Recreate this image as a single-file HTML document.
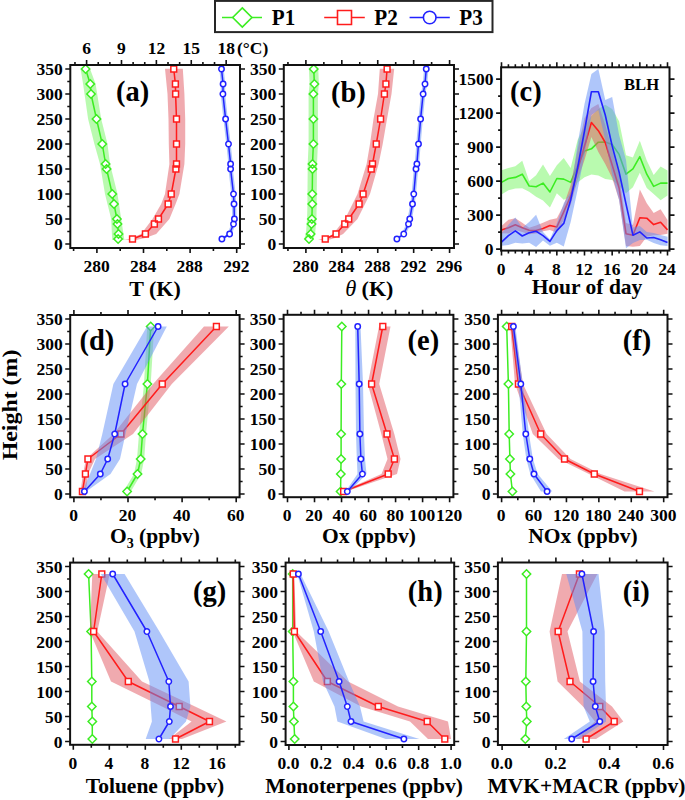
<!DOCTYPE html>
<html><head><meta charset="utf-8"><style>
html,body{margin:0;padding:0;background:#fff;}
svg{display:block;}
</style></head><body>
<svg width="685" height="800" viewBox="0 0 685 800">
<rect width="685" height="800" fill="#fff"/>
<polygon points="80.6,68.8 83.1,84 88.1,119 94.4,144 100,164 105,194 111.2,219 112.2,240 124.4,240 121.2,219 117.5,194 110,164 107.5,144 101.2,119 95.6,84 90,68.8" fill="#73f55f" fill-opacity="0.5"/>
<polyline points="85.6,69 90.25,84 91,94 96.5,119 102.25,144 105.6,164 106.6,169 112.25,194 114,204 116.9,219 117.5,224 118.5,234 118.1,239" fill="none" stroke="#3ced22" stroke-width="1.5" stroke-linejoin="round"/>
<path d="M85.6 64.8L89.8 69L85.6 73.2L81.4 69ZM90.25 79.8L94.45 84L90.25 88.2L86.05 84ZM91 89.8L95.2 94L91 98.2L86.8 94ZM96.5 114.8L100.7 119L96.5 123.2L92.3 119ZM102.25 139.8L106.45 144L102.25 148.2L98.05 144ZM105.6 159.8L109.8 164L105.6 168.2L101.4 164ZM106.6 164.8L110.8 169L106.6 173.2L102.4 169ZM112.25 189.8L116.45 194L112.25 198.2L108.05 194ZM114 199.8L118.2 204L114 208.2L109.8 204ZM116.9 214.8L121.1 219L116.9 223.2L112.7 219ZM117.5 219.8L121.7 224L117.5 228.2L113.3 224ZM118.5 229.8L122.7 234L118.5 238.2L114.3 234ZM118.1 234.8L122.3 239L118.1 243.2L113.9 239Z" fill="#fff" stroke="#3ced22" stroke-width="1.5"/>
<polygon points="165,68.8 167.5,94 168.5,119 168.8,144 169.4,164 165,194 161.2,204 152.5,219 141.2,234 129,239 124,240 136,240 145,238 156.2,234 169.4,219 175.6,204 179.4,194 184.4,164 185.2,144 185.2,119 184.4,94 182.8,68.8" fill="#e1555f" fill-opacity="0.5"/>
<polyline points="173.75,69 175.4,84 175.6,94 176.5,119 176.5,144 176.5,164 175.9,169 171.25,194 168.1,204 158.5,219 154.4,224 145.4,234 132.5,239" fill="none" stroke="#ff1c1c" stroke-width="1.5" stroke-linejoin="round"/>
<path d="M170.85 66.1h5.8v5.8h-5.8ZM172.5 81.1h5.8v5.8h-5.8ZM172.7 91.1h5.8v5.8h-5.8ZM173.6 116.1h5.8v5.8h-5.8ZM173.6 141.1h5.8v5.8h-5.8ZM173.6 161.1h5.8v5.8h-5.8ZM173 166.1h5.8v5.8h-5.8ZM168.35 191.1h5.8v5.8h-5.8ZM165.2 201.1h5.8v5.8h-5.8ZM155.6 216.1h5.8v5.8h-5.8ZM151.5 221.1h5.8v5.8h-5.8ZM142.5 231.1h5.8v5.8h-5.8ZM129.6 236.1h5.8v5.8h-5.8Z" fill="#fff" stroke="#ff1c1c" stroke-width="1.5"/>
<polygon points="219.3,69 220.9,84 220.7,94 223.4,119 226.3,144 228.4,164 228.4,169 231.3,194 231.8,204 232.2,219 231.3,224 227.4,234 219.7,239 224.1,239 231.8,234 235.7,224 236.6,219 236.2,204 235.7,194 232.8,169 232.8,164 230.7,144 227.8,119 225.1,94 225.3,84 223.7,69" fill="#5f8df5" fill-opacity="0.5"/>
<polyline points="221.5,69 223.1,84 222.9,94 225.6,119 228.5,144 230.6,164 230.6,169 233.5,194 234,204 234.4,219 233.5,224 229.6,234 221.9,239" fill="none" stroke="#2222ff" stroke-width="1.5" stroke-linejoin="round"/>
<path d="M218.8 69a2.7 2.7 0 1 0 5.4 0a2.7 2.7 0 1 0 -5.4 0ZM220.4 84a2.7 2.7 0 1 0 5.4 0a2.7 2.7 0 1 0 -5.4 0ZM220.2 94a2.7 2.7 0 1 0 5.4 0a2.7 2.7 0 1 0 -5.4 0ZM222.9 119a2.7 2.7 0 1 0 5.4 0a2.7 2.7 0 1 0 -5.4 0ZM225.8 144a2.7 2.7 0 1 0 5.4 0a2.7 2.7 0 1 0 -5.4 0ZM227.9 164a2.7 2.7 0 1 0 5.4 0a2.7 2.7 0 1 0 -5.4 0ZM227.9 169a2.7 2.7 0 1 0 5.4 0a2.7 2.7 0 1 0 -5.4 0ZM230.8 194a2.7 2.7 0 1 0 5.4 0a2.7 2.7 0 1 0 -5.4 0ZM231.3 204a2.7 2.7 0 1 0 5.4 0a2.7 2.7 0 1 0 -5.4 0ZM231.7 219a2.7 2.7 0 1 0 5.4 0a2.7 2.7 0 1 0 -5.4 0ZM230.8 224a2.7 2.7 0 1 0 5.4 0a2.7 2.7 0 1 0 -5.4 0ZM226.9 234a2.7 2.7 0 1 0 5.4 0a2.7 2.7 0 1 0 -5.4 0ZM219.2 239a2.7 2.7 0 1 0 5.4 0a2.7 2.7 0 1 0 -5.4 0Z" fill="#fff" stroke="#2222ff" stroke-width="1.5"/>
<rect x="70.3" y="65" width="169.7" height="183" fill="none" stroke="#111" stroke-width="2"/>
<path d="M70.3 244L65.3 244M240 244L245 244M70.3 219L65.3 219M240 219L245 219M70.3 194L65.3 194M240 194L245 194M70.3 169L65.3 169M240 169L245 169M70.3 144L65.3 144M240 144L245 144M70.3 119L65.3 119M240 119L245 119M70.3 94L65.3 94M240 94L245 94M70.3 69L65.3 69M240 69L245 69M70.3 231.5L67.3 231.5M240 231.5L243 231.5M70.3 206.5L67.3 206.5M240 206.5L243 206.5M70.3 181.5L67.3 181.5M240 181.5L243 181.5M70.3 156.5L67.3 156.5M240 156.5L243 156.5M70.3 131.5L67.3 131.5M240 131.5L243 131.5M70.3 106.5L67.3 106.5M240 106.5L243 106.5M70.3 81.5L67.3 81.5M240 81.5L243 81.5" stroke="#111" stroke-width="1.6" fill="none"/>
<text x="62.8" y="250.2" font-family="Liberation Serif" font-weight="bold" font-size="17.5" text-anchor="end">0</text>
<text x="62.8" y="225.2" font-family="Liberation Serif" font-weight="bold" font-size="17.5" text-anchor="end">50</text>
<text x="62.8" y="200.2" font-family="Liberation Serif" font-weight="bold" font-size="17.5" text-anchor="end">100</text>
<text x="62.8" y="175.2" font-family="Liberation Serif" font-weight="bold" font-size="17.5" text-anchor="end">150</text>
<text x="62.8" y="150.2" font-family="Liberation Serif" font-weight="bold" font-size="17.5" text-anchor="end">200</text>
<text x="62.8" y="125.2" font-family="Liberation Serif" font-weight="bold" font-size="17.5" text-anchor="end">250</text>
<text x="62.8" y="100.2" font-family="Liberation Serif" font-weight="bold" font-size="17.5" text-anchor="end">300</text>
<text x="62.8" y="75.2" font-family="Liberation Serif" font-weight="bold" font-size="17.5" text-anchor="end">350</text>
<path d="M96.9 248L96.9 253M143.5 248L143.5 253M190.1 248L190.1 253M236.7 248L236.7 253M73.6 248L73.6 251M120.2 248L120.2 251M166.8 248L166.8 251M213.4 248L213.4 251" stroke="#111" stroke-width="1.6" fill="none"/>
<text x="96.5" y="272" font-family="Liberation Serif" font-weight="bold" font-size="17.5" text-anchor="middle">280</text>
<text x="143.1" y="272" font-family="Liberation Serif" font-weight="bold" font-size="17.5" text-anchor="middle">284</text>
<text x="189.7" y="272" font-family="Liberation Serif" font-weight="bold" font-size="17.5" text-anchor="middle">288</text>
<text x="236.3" y="272" font-family="Liberation Serif" font-weight="bold" font-size="17.5" text-anchor="middle">292</text>
<path d="M86.6 65L86.6 60M121.49 65L121.49 60M156.38 65L156.38 60M191.27 65L191.27 60M226.16 65L226.16 60M74.97 65L74.97 62M98.23 65L98.23 62M109.86 65L109.86 62M133.12 65L133.12 62M144.75 65L144.75 62M168.01 65L168.01 62M179.64 65L179.64 62M202.9 65L202.9 62M214.53 65L214.53 62" stroke="#111" stroke-width="1.6" fill="none"/>
<text x="86.6" y="53.8" font-family="Liberation Serif" font-weight="bold" font-size="17.5" text-anchor="middle">6</text>
<text x="121.49" y="53.8" font-family="Liberation Serif" font-weight="bold" font-size="17.5" text-anchor="middle">9</text>
<text x="156.38" y="53.8" font-family="Liberation Serif" font-weight="bold" font-size="17.5" text-anchor="middle">12</text>
<text x="191.27" y="53.8" font-family="Liberation Serif" font-weight="bold" font-size="17.5" text-anchor="middle">15</text>
<text x="226.16" y="53.8" font-family="Liberation Serif" font-weight="bold" font-size="17.5" text-anchor="middle">18</text>
<text x="237" y="53.8" font-family="Liberation Serif" font-weight="bold" font-size="17.5">(°C)</text>
<text x="116" y="101.3" font-family="Liberation Serif" font-weight="bold" font-size="28.5" text-anchor="start">(a)</text>
<text x="155" y="295.8" font-family="Liberation Serif" font-weight="bold" font-size="22" text-anchor="middle">T (K)</text>
<polygon points="308.95,69 309.6,84 308.6,94 308.6,119 308.6,144 307.7,164 307.7,169 307.45,194 307.45,204 307.1,219 306.7,224 305.8,234 304.2,239 313.5,239 315.1,234 316,224 316.4,219 316.75,204 316.75,194 317,169 317,164 317.9,144 317.9,119 317.9,94 318.9,84 318.25,69" fill="#73f55f" fill-opacity="0.5"/>
<polyline points="313.75,69 314.4,84 313.4,94 313.4,119 313.4,144 312.5,164 312.5,169 312.25,194 312.25,204 311.9,219 311.5,224 310.6,234 309,239" fill="none" stroke="#3ced22" stroke-width="1.5" stroke-linejoin="round"/>
<path d="M313.75 64.8L317.95 69L313.75 73.2L309.55 69ZM314.4 79.8L318.6 84L314.4 88.2L310.2 84ZM313.4 89.8L317.6 94L313.4 98.2L309.2 94ZM313.4 114.8L317.6 119L313.4 123.2L309.2 119ZM313.4 139.8L317.6 144L313.4 148.2L309.2 144ZM312.5 159.8L316.7 164L312.5 168.2L308.3 164ZM312.5 164.8L316.7 169L312.5 173.2L308.3 169ZM312.25 189.8L316.45 194L312.25 198.2L308.05 194ZM312.25 199.8L316.45 204L312.25 208.2L308.05 204ZM311.9 214.8L316.1 219L311.9 223.2L307.7 219ZM311.5 219.8L315.7 224L311.5 228.2L307.3 224ZM310.6 229.8L314.8 234L310.6 238.2L306.4 234ZM309 234.8L313.2 239L309 243.2L304.8 239Z" fill="#fff" stroke="#3ced22" stroke-width="1.5"/>
<polygon points="379.8,68.8 378,94 373.5,119 370,144 366.6,164 357.5,194 345,219 333.1,234 325,238 318,240 328,240 335,238 343.1,234 357.5,219 370,194 378.6,164 382.7,144 387,119 391.5,94 394.2,68.8" fill="#e1555f" fill-opacity="0.5"/>
<polyline points="387.1,69 385.9,84 384.4,94 380.6,119 376.25,144 372.5,164 371.25,169 363.1,194 359.1,204 348.75,219 344.75,224 336,234 325.25,239" fill="none" stroke="#ff1c1c" stroke-width="1.5" stroke-linejoin="round"/>
<path d="M384.2 66.1h5.8v5.8h-5.8ZM383 81.1h5.8v5.8h-5.8ZM381.5 91.1h5.8v5.8h-5.8ZM377.7 116.1h5.8v5.8h-5.8ZM373.35 141.1h5.8v5.8h-5.8ZM369.6 161.1h5.8v5.8h-5.8ZM368.35 166.1h5.8v5.8h-5.8ZM360.2 191.1h5.8v5.8h-5.8ZM356.2 201.1h5.8v5.8h-5.8ZM345.85 216.1h5.8v5.8h-5.8ZM341.85 221.1h5.8v5.8h-5.8ZM333.1 231.1h5.8v5.8h-5.8ZM322.35 236.1h5.8v5.8h-5.8Z" fill="#fff" stroke="#ff1c1c" stroke-width="1.5"/>
<polygon points="424.05,69 422.8,84 420.9,94 418.4,119 416.3,144 414.7,164 413.8,169 411.55,194 410.3,204 407.55,219 406.3,224 401.55,234 394.7,239 399.1,239 405.95,234 410.7,224 411.95,219 414.7,204 415.95,194 418.2,169 419.1,164 420.7,144 422.8,119 425.3,94 427.2,84 428.45,69" fill="#5f8df5" fill-opacity="0.5"/>
<polyline points="426.25,69 425,84 423.1,94 420.6,119 418.5,144 416.9,164 416,169 413.75,194 412.5,204 409.75,219 408.5,224 403.75,234 396.9,239" fill="none" stroke="#2222ff" stroke-width="1.5" stroke-linejoin="round"/>
<path d="M423.55 69a2.7 2.7 0 1 0 5.4 0a2.7 2.7 0 1 0 -5.4 0ZM422.3 84a2.7 2.7 0 1 0 5.4 0a2.7 2.7 0 1 0 -5.4 0ZM420.4 94a2.7 2.7 0 1 0 5.4 0a2.7 2.7 0 1 0 -5.4 0ZM417.9 119a2.7 2.7 0 1 0 5.4 0a2.7 2.7 0 1 0 -5.4 0ZM415.8 144a2.7 2.7 0 1 0 5.4 0a2.7 2.7 0 1 0 -5.4 0ZM414.2 164a2.7 2.7 0 1 0 5.4 0a2.7 2.7 0 1 0 -5.4 0ZM413.3 169a2.7 2.7 0 1 0 5.4 0a2.7 2.7 0 1 0 -5.4 0ZM411.05 194a2.7 2.7 0 1 0 5.4 0a2.7 2.7 0 1 0 -5.4 0ZM409.8 204a2.7 2.7 0 1 0 5.4 0a2.7 2.7 0 1 0 -5.4 0ZM407.05 219a2.7 2.7 0 1 0 5.4 0a2.7 2.7 0 1 0 -5.4 0ZM405.8 224a2.7 2.7 0 1 0 5.4 0a2.7 2.7 0 1 0 -5.4 0ZM401.05 234a2.7 2.7 0 1 0 5.4 0a2.7 2.7 0 1 0 -5.4 0ZM394.2 239a2.7 2.7 0 1 0 5.4 0a2.7 2.7 0 1 0 -5.4 0Z" fill="#fff" stroke="#2222ff" stroke-width="1.5"/>
<rect x="283.8" y="65" width="170.2" height="183" fill="none" stroke="#111" stroke-width="2"/>
<path d="M283.8 244L278.8 244M454 244L459 244M283.8 219L278.8 219M454 219L459 219M283.8 194L278.8 194M454 194L459 194M283.8 169L278.8 169M454 169L459 169M283.8 144L278.8 144M454 144L459 144M283.8 119L278.8 119M454 119L459 119M283.8 94L278.8 94M454 94L459 94M283.8 69L278.8 69M454 69L459 69M283.8 231.5L280.8 231.5M454 231.5L457 231.5M283.8 206.5L280.8 206.5M454 206.5L457 206.5M283.8 181.5L280.8 181.5M454 181.5L457 181.5M283.8 156.5L280.8 156.5M454 156.5L457 156.5M283.8 131.5L280.8 131.5M454 131.5L457 131.5M283.8 106.5L280.8 106.5M454 106.5L457 106.5M283.8 81.5L280.8 81.5M454 81.5L457 81.5" stroke="#111" stroke-width="1.6" fill="none"/>
<text x="276.3" y="250.2" font-family="Liberation Serif" font-weight="bold" font-size="17.5" text-anchor="end">0</text>
<text x="276.3" y="225.2" font-family="Liberation Serif" font-weight="bold" font-size="17.5" text-anchor="end">50</text>
<text x="276.3" y="200.2" font-family="Liberation Serif" font-weight="bold" font-size="17.5" text-anchor="end">100</text>
<text x="276.3" y="175.2" font-family="Liberation Serif" font-weight="bold" font-size="17.5" text-anchor="end">150</text>
<text x="276.3" y="150.2" font-family="Liberation Serif" font-weight="bold" font-size="17.5" text-anchor="end">200</text>
<text x="276.3" y="125.2" font-family="Liberation Serif" font-weight="bold" font-size="17.5" text-anchor="end">250</text>
<text x="276.3" y="100.2" font-family="Liberation Serif" font-weight="bold" font-size="17.5" text-anchor="end">300</text>
<text x="276.3" y="75.2" font-family="Liberation Serif" font-weight="bold" font-size="17.5" text-anchor="end">350</text>
<path d="M305.9 248L305.9 253M305.9 65L305.9 60M341.82 248L341.82 253M341.82 65L341.82 60M377.74 248L377.74 253M377.74 65L377.74 60M413.66 248L413.66 253M413.66 65L413.66 60M449.58 248L449.58 253M449.58 65L449.58 60M287.94 248L287.94 251M287.94 65L287.94 62M323.86 248L323.86 251M323.86 65L323.86 62M359.78 248L359.78 251M359.78 65L359.78 62M395.7 248L395.7 251M395.7 65L395.7 62M431.62 248L431.62 251M431.62 65L431.62 62" stroke="#111" stroke-width="1.6" fill="none"/>
<text x="305.5" y="272" font-family="Liberation Serif" font-weight="bold" font-size="17.5" text-anchor="middle">280</text>
<text x="341.42" y="272" font-family="Liberation Serif" font-weight="bold" font-size="17.5" text-anchor="middle">284</text>
<text x="377.34" y="272" font-family="Liberation Serif" font-weight="bold" font-size="17.5" text-anchor="middle">288</text>
<text x="413.26" y="272" font-family="Liberation Serif" font-weight="bold" font-size="17.5" text-anchor="middle">292</text>
<text x="449.18" y="272" font-family="Liberation Serif" font-weight="bold" font-size="17.5" text-anchor="middle">296</text>
<text x="331" y="101.8" font-family="Liberation Serif" font-weight="bold" font-size="28.5" text-anchor="start">(b)</text>
<text x="345.2" y="295.8" font-family="Liberation Serif" font-style="italic" font-size="22.5">θ</text>
<text x="361.6" y="295.8" font-family="Liberation Serif" font-weight="bold" font-size="22">(K)</text>
<polygon points="501.5,170.2 508.42,168 515.33,166.3 522.25,160.8 529.17,181 536.09,175.2 543,164.4 549.92,176 556.84,165.2 563.75,158 570.67,168 577.59,140 584.5,126.5 591.42,116 598.34,109 605.25,104.8 612.17,109 619.09,121.3 626.01,155.2 632.92,157.5 639.84,140.7 646.76,160.5 653.67,175 660.59,166.6 667.51,170.4 667.51,195.6 660.59,200.2 653.67,194 646.76,188 639.84,172.7 632.92,187.2 626.01,193.3 619.09,186 612.17,180 605.25,179 598.34,175.5 591.42,174.6 584.5,177.3 577.59,182.5 570.67,196.8 563.75,199.7 556.84,193.2 549.92,207.6 543,200.4 536.09,196.8 529.17,191.8 522.25,188.2 515.33,188.6 508.42,190.3 501.5,194.6" fill="#73f55f" fill-opacity="0.5"/>
<polyline points="501.5,182.4 508.42,178.5 515.33,177.4 522.25,174.2 529.17,186 536.09,186.7 543,183.1 549.92,192 556.84,178.5 563.75,179.1 570.67,182.4 577.59,166 584.5,151 591.42,148.8 598.34,142.2 605.25,142.1 612.17,144.5 619.09,154.4 626.01,174.2 632.92,168.9 639.84,156.7 646.76,174.2 653.67,186.4 660.59,183.1 667.51,183.1" fill="none" stroke="#3ced22" stroke-width="1.6" stroke-linejoin="round"/>
<polygon points="501.5,226 508.42,219.8 515.33,218.3 522.25,222.7 529.17,227.7 536.09,225.5 543,222.7 549.92,219.8 556.84,218.3 563.75,205 570.67,185 577.59,150 584.5,118 591.42,108 598.34,104 605.25,125 612.17,150 619.09,175 626.01,223 632.92,225 639.84,189.5 646.76,203.2 653.67,213.1 660.59,209.3 667.51,220 667.51,233.7 660.59,235 653.67,235.2 646.76,236.8 639.84,245.9 632.92,246.7 626.01,246 619.09,200 612.17,178 605.25,164 598.34,152 591.42,137 584.5,160 577.59,180 570.67,205 563.75,220 556.84,232.7 549.92,229.9 543,231.3 536.09,233.4 529.17,234.2 522.25,232 515.33,229.9 508.42,233.4 501.5,233.2" fill="#e1555f" fill-opacity="0.5"/>
<polyline points="501.5,229.9 508.42,227.7 515.33,224.8 522.25,227.7 529.17,230.3 536.09,230.6 543,228.4 549.92,225.5 556.84,227 563.75,211.9 570.67,196.1 577.59,170 584.5,146 591.42,122.5 598.34,130.7 605.25,142.5 612.17,165 619.09,188 626.01,233.7 632.92,235.2 639.84,217.7 646.76,218.2 653.67,224.6 660.59,222.3 667.51,229.9" fill="none" stroke="#ff1c1c" stroke-width="1.6" stroke-linejoin="round"/>
<polygon points="501.5,233.4 508.42,224.8 515.33,217.6 522.25,227.7 529.17,222 536.09,214.8 543,232 549.92,239.2 556.84,223.4 563.75,203.3 570.67,192 577.59,144 584.5,104 591.42,74 598.34,69 605.25,100 612.17,97 619.09,135 626.01,160 632.92,227.6 639.84,226.1 646.76,232 653.67,233 660.59,235 667.51,236.8 667.51,245.9 660.59,245.2 653.67,242.9 646.76,239.8 639.84,240 632.92,242.9 626.01,248.2 619.09,200 612.17,175 605.25,140 598.34,110 591.42,115 584.5,155 577.59,190 570.67,222 563.75,246.4 556.84,242.8 549.92,245.7 543,240.6 536.09,247.1 529.17,242.8 522.25,243.5 515.33,242.8 508.42,245 501.5,245.7" fill="#5f8df5" fill-opacity="0.5"/>
<polyline points="501.5,242.1 508.42,235.6 515.33,230.9 522.25,236 529.17,232.7 536.09,231.3 543,235.6 549.92,241.4 556.84,230.6 563.75,223.4 570.67,200 577.59,168 584.5,131 591.42,91.7 598.34,91.7 605.25,115 612.17,146 619.09,172 626.01,204 632.92,235.2 639.84,231.9 646.76,238 653.67,237.5 660.59,239.8 667.51,242.6" fill="none" stroke="#2222ff" stroke-width="1.6" stroke-linejoin="round"/>
<rect x="501.1" y="67.3" width="168.4" height="183.3" fill="none" stroke="#111" stroke-width="2"/>
<path d="M501.1 249.1L496.1 249.1M669.5 249.1L674.5 249.1M501.1 215.1L496.1 215.1M669.5 215.1L674.5 215.1M501.1 181.1L496.1 181.1M669.5 181.1L674.5 181.1M501.1 147.1L496.1 147.1M669.5 147.1L674.5 147.1M501.1 113.1L496.1 113.1M669.5 113.1L674.5 113.1M501.1 79.1L496.1 79.1M669.5 79.1L674.5 79.1M501.1 232.1L498.1 232.1M669.5 232.1L672.5 232.1M501.1 198.1L498.1 198.1M669.5 198.1L672.5 198.1M501.1 164.1L498.1 164.1M669.5 164.1L672.5 164.1M501.1 130.1L498.1 130.1M669.5 130.1L672.5 130.1M501.1 96.1L498.1 96.1M669.5 96.1L672.5 96.1" stroke="#111" stroke-width="1.6" fill="none"/>
<text x="493.6" y="255.3" font-family="Liberation Serif" font-weight="bold" font-size="17.5" text-anchor="end">0</text>
<text x="493.6" y="221.3" font-family="Liberation Serif" font-weight="bold" font-size="17.5" text-anchor="end">300</text>
<text x="493.6" y="187.3" font-family="Liberation Serif" font-weight="bold" font-size="17.5" text-anchor="end">600</text>
<text x="493.6" y="153.3" font-family="Liberation Serif" font-weight="bold" font-size="17.5" text-anchor="end">900</text>
<text x="493.6" y="119.3" font-family="Liberation Serif" font-weight="bold" font-size="17.5" text-anchor="end">1200</text>
<text x="493.6" y="85.3" font-family="Liberation Serif" font-weight="bold" font-size="17.5" text-anchor="end">1500</text>
<path d="M501.5 250.6L501.5 255.6M501.5 67.3L501.5 62.3M529.17 250.6L529.17 255.6M529.17 67.3L529.17 62.3M556.84 250.6L556.84 255.6M556.84 67.3L556.84 62.3M584.5 250.6L584.5 255.6M584.5 67.3L584.5 62.3M612.17 250.6L612.17 255.6M612.17 67.3L612.17 62.3M639.84 250.6L639.84 255.6M639.84 67.3L639.84 62.3M667.51 250.6L667.51 255.6M667.51 67.3L667.51 62.3M508.42 250.6L508.42 253.6M508.42 67.3L508.42 64.3M515.33 250.6L515.33 253.6M515.33 67.3L515.33 64.3M522.25 250.6L522.25 253.6M522.25 67.3L522.25 64.3M536.09 250.6L536.09 253.6M536.09 67.3L536.09 64.3M543 250.6L543 253.6M543 67.3L543 64.3M549.92 250.6L549.92 253.6M549.92 67.3L549.92 64.3M563.75 250.6L563.75 253.6M563.75 67.3L563.75 64.3M570.67 250.6L570.67 253.6M570.67 67.3L570.67 64.3M577.59 250.6L577.59 253.6M577.59 67.3L577.59 64.3M591.42 250.6L591.42 253.6M591.42 67.3L591.42 64.3M598.34 250.6L598.34 253.6M598.34 67.3L598.34 64.3M605.25 250.6L605.25 253.6M605.25 67.3L605.25 64.3M619.09 250.6L619.09 253.6M619.09 67.3L619.09 64.3M626.01 250.6L626.01 253.6M626.01 67.3L626.01 64.3M632.92 250.6L632.92 253.6M632.92 67.3L632.92 64.3M646.76 250.6L646.76 253.6M646.76 67.3L646.76 64.3M653.67 250.6L653.67 253.6M653.67 67.3L653.67 64.3M660.59 250.6L660.59 253.6M660.59 67.3L660.59 64.3" stroke="#111" stroke-width="1.6" fill="none"/>
<text x="501.1" y="274.6" font-family="Liberation Serif" font-weight="bold" font-size="17.5" text-anchor="middle">0</text>
<text x="528.77" y="274.6" font-family="Liberation Serif" font-weight="bold" font-size="17.5" text-anchor="middle">4</text>
<text x="556.44" y="274.6" font-family="Liberation Serif" font-weight="bold" font-size="17.5" text-anchor="middle">8</text>
<text x="584.1" y="274.6" font-family="Liberation Serif" font-weight="bold" font-size="17.5" text-anchor="middle">12</text>
<text x="611.77" y="274.6" font-family="Liberation Serif" font-weight="bold" font-size="17.5" text-anchor="middle">16</text>
<text x="639.44" y="274.6" font-family="Liberation Serif" font-weight="bold" font-size="17.5" text-anchor="middle">20</text>
<text x="667.11" y="274.6" font-family="Liberation Serif" font-weight="bold" font-size="17.5" text-anchor="middle">24</text>
<text x="510" y="100.7" font-family="Liberation Serif" font-weight="bold" font-size="28.5" text-anchor="start">(c)</text>
<text x="624" y="89.8" font-family="Liberation Serif" font-weight="bold" font-size="16.6">BLH</text>
<text x="587" y="293.5" font-family="Liberation Serif" font-weight="bold" font-size="21.5" text-anchor="middle">Hour of day</text>
<polygon points="147.2,326.5 144,384 139,434 137,459 134,474 123.4,491.5 130.8,491.5 141.2,474 144.2,459 146,434 150.7,384 154.2,326.5" fill="#73f55f" fill-opacity="0.5"/>
<polyline points="150.7,326.5 147.4,384 142.5,434 140.7,459 137.5,474 127.1,491.5" fill="none" stroke="#3ced22" stroke-width="1.5" stroke-linejoin="round"/>
<path d="M150.7 322.3L154.9 326.5L150.7 330.7L146.5 326.5ZM147.4 379.8L151.6 384L147.4 388.2L143.2 384ZM142.5 429.8L146.7 434L142.5 438.2L138.3 434ZM140.7 454.8L144.9 459L140.7 463.2L136.5 459ZM137.5 469.8L141.7 474L137.5 478.2L133.3 474ZM127.1 487.3L131.3 491.5L127.1 495.7L122.9 491.5Z" fill="#fff" stroke="#3ced22" stroke-width="1.5"/>
<polygon points="204,326.5 153.1,384 113.5,434 86,459 83,474 80.5,491.5 86,491.5 88,474 95,459 133,434 171.8,384 228.8,326.5" fill="#e1555f" fill-opacity="0.5"/>
<polyline points="216.4,326.5 162.3,384 120.9,434 87.9,459 85.4,474 82.4,491.5" fill="none" stroke="#ff1c1c" stroke-width="1.5" stroke-linejoin="round"/>
<path d="M213.5 323.6h5.8v5.8h-5.8ZM159.4 381.1h5.8v5.8h-5.8ZM118 431.1h5.8v5.8h-5.8ZM85 456.1h5.8v5.8h-5.8ZM82.5 471.1h5.8v5.8h-5.8ZM79.5 488.6h5.8v5.8h-5.8Z" fill="#fff" stroke="#ff1c1c" stroke-width="1.5"/>
<polygon points="147,326.5 113.4,384 102.3,434 96,459 90,474 82.4,491.5 86.2,491.5 110.5,474 120,459 125.5,434 137,384 166.8,326.5" fill="#5f8df5" fill-opacity="0.5"/>
<polyline points="158.1,326.5 125.1,384 114.7,434 107.7,459 100.3,474 84.4,491.5" fill="none" stroke="#2222ff" stroke-width="1.5" stroke-linejoin="round"/>
<path d="M155.4 326.5a2.7 2.7 0 1 0 5.4 0a2.7 2.7 0 1 0 -5.4 0ZM122.4 384a2.7 2.7 0 1 0 5.4 0a2.7 2.7 0 1 0 -5.4 0ZM112 434a2.7 2.7 0 1 0 5.4 0a2.7 2.7 0 1 0 -5.4 0ZM105 459a2.7 2.7 0 1 0 5.4 0a2.7 2.7 0 1 0 -5.4 0ZM97.6 474a2.7 2.7 0 1 0 5.4 0a2.7 2.7 0 1 0 -5.4 0ZM81.7 491.5a2.7 2.7 0 1 0 5.4 0a2.7 2.7 0 1 0 -5.4 0Z" fill="#fff" stroke="#2222ff" stroke-width="1.5"/>
<rect x="70.2" y="315" width="169.4" height="182.3" fill="none" stroke="#111" stroke-width="2"/>
<path d="M70.2 494L65.2 494M239.6 494L244.6 494M70.2 469L65.2 469M239.6 469L244.6 469M70.2 444L65.2 444M239.6 444L244.6 444M70.2 419L65.2 419M239.6 419L244.6 419M70.2 394L65.2 394M239.6 394L244.6 394M70.2 369L65.2 369M239.6 369L244.6 369M70.2 344L65.2 344M239.6 344L244.6 344M70.2 319L65.2 319M239.6 319L244.6 319M70.2 481.5L67.2 481.5M239.6 481.5L242.6 481.5M70.2 456.5L67.2 456.5M239.6 456.5L242.6 456.5M70.2 431.5L67.2 431.5M239.6 431.5L242.6 431.5M70.2 406.5L67.2 406.5M239.6 406.5L242.6 406.5M70.2 381.5L67.2 381.5M239.6 381.5L242.6 381.5M70.2 356.5L67.2 356.5M239.6 356.5L242.6 356.5M70.2 331.5L67.2 331.5M239.6 331.5L242.6 331.5" stroke="#111" stroke-width="1.6" fill="none"/>
<text x="62.7" y="500.2" font-family="Liberation Serif" font-weight="bold" font-size="17.5" text-anchor="end">0</text>
<text x="62.7" y="475.2" font-family="Liberation Serif" font-weight="bold" font-size="17.5" text-anchor="end">50</text>
<text x="62.7" y="450.2" font-family="Liberation Serif" font-weight="bold" font-size="17.5" text-anchor="end">100</text>
<text x="62.7" y="425.2" font-family="Liberation Serif" font-weight="bold" font-size="17.5" text-anchor="end">150</text>
<text x="62.7" y="400.2" font-family="Liberation Serif" font-weight="bold" font-size="17.5" text-anchor="end">200</text>
<text x="62.7" y="375.2" font-family="Liberation Serif" font-weight="bold" font-size="17.5" text-anchor="end">250</text>
<text x="62.7" y="350.2" font-family="Liberation Serif" font-weight="bold" font-size="17.5" text-anchor="end">300</text>
<text x="62.7" y="325.2" font-family="Liberation Serif" font-weight="bold" font-size="17.5" text-anchor="end">350</text>
<path d="M73.9 497.3L73.9 502.3M73.9 315L73.9 310M128 497.3L128 502.3M128 315L128 310M182.1 497.3L182.1 502.3M182.1 315L182.1 310M236.2 497.3L236.2 502.3M236.2 315L236.2 310M100.95 497.3L100.95 500.3M100.95 315L100.95 312M155.05 497.3L155.05 500.3M155.05 315L155.05 312M209.15 497.3L209.15 500.3M209.15 315L209.15 312" stroke="#111" stroke-width="1.6" fill="none"/>
<text x="73.5" y="521.3" font-family="Liberation Serif" font-weight="bold" font-size="17.5" text-anchor="middle">0</text>
<text x="127.6" y="521.3" font-family="Liberation Serif" font-weight="bold" font-size="17.5" text-anchor="middle">20</text>
<text x="181.7" y="521.3" font-family="Liberation Serif" font-weight="bold" font-size="17.5" text-anchor="middle">40</text>
<text x="235.8" y="521.3" font-family="Liberation Serif" font-weight="bold" font-size="17.5" text-anchor="middle">60</text>
<text x="79.5" y="350.2" font-family="Liberation Serif" font-weight="bold" font-size="28.5" text-anchor="start">(d)</text>
<text x="155" y="543.3" font-family="Liberation Serif" font-weight="bold" font-size="21.5" text-anchor="middle">O<tspan font-size="14" dy="5">3</tspan><tspan dy="-5"> (ppbv)</tspan></text>
<polyline points="341.8,326.5 341.3,384 341.1,434 341.1,459 340.8,474 340.6,491.5" fill="none" stroke="#3ced22" stroke-width="1.5" stroke-linejoin="round"/>
<path d="M341.8 322.3L346 326.5L341.8 330.7L337.6 326.5ZM341.3 379.8L345.5 384L341.3 388.2L337.1 384ZM341.1 429.8L345.3 434L341.1 438.2L336.9 434ZM341.1 454.8L345.3 459L341.1 463.2L336.9 459ZM340.8 469.8L345 474L340.8 478.2L336.6 474ZM340.6 487.3L344.8 491.5L340.6 495.7L336.4 491.5Z" fill="#fff" stroke="#3ced22" stroke-width="1.5"/>
<polygon points="379,326.5 367.8,384 381.3,434 387.5,459 381.5,474 341.5,491.5 346,491.5 397,474 400.5,459 394.3,434 379.2,384 390.5,326.5" fill="#e1555f" fill-opacity="0.5"/>
<polyline points="382.8,326.5 371.6,384 387,434 394.4,459 388.2,474 343.6,491.5" fill="none" stroke="#ff1c1c" stroke-width="1.5" stroke-linejoin="round"/>
<path d="M379.9 323.6h5.8v5.8h-5.8ZM368.7 381.1h5.8v5.8h-5.8ZM384.1 431.1h5.8v5.8h-5.8ZM391.5 456.1h5.8v5.8h-5.8ZM385.3 471.1h5.8v5.8h-5.8ZM340.7 488.6h5.8v5.8h-5.8Z" fill="#fff" stroke="#ff1c1c" stroke-width="1.5"/>
<polygon points="355.3,326.5 355.5,384 356,434 356.8,459 357.5,474 345.5,491.5 349.5,491.5 366.5,474 365,459 364,434 363,384 360.5,326.5" fill="#5f8df5" fill-opacity="0.5"/>
<polyline points="357.7,326.5 359.2,384 359.9,434 360.9,459 362.4,474 347.3,491.5" fill="none" stroke="#2222ff" stroke-width="1.5" stroke-linejoin="round"/>
<path d="M355 326.5a2.7 2.7 0 1 0 5.4 0a2.7 2.7 0 1 0 -5.4 0ZM356.5 384a2.7 2.7 0 1 0 5.4 0a2.7 2.7 0 1 0 -5.4 0ZM357.2 434a2.7 2.7 0 1 0 5.4 0a2.7 2.7 0 1 0 -5.4 0ZM358.2 459a2.7 2.7 0 1 0 5.4 0a2.7 2.7 0 1 0 -5.4 0ZM359.7 474a2.7 2.7 0 1 0 5.4 0a2.7 2.7 0 1 0 -5.4 0ZM344.6 491.5a2.7 2.7 0 1 0 5.4 0a2.7 2.7 0 1 0 -5.4 0Z" fill="#fff" stroke="#2222ff" stroke-width="1.5"/>
<rect x="283.6" y="314.8" width="169.8" height="182.4" fill="none" stroke="#111" stroke-width="2"/>
<path d="M283.6 494L278.6 494M453.4 494L458.4 494M283.6 469L278.6 469M453.4 469L458.4 469M283.6 444L278.6 444M453.4 444L458.4 444M283.6 419L278.6 419M453.4 419L458.4 419M283.6 394L278.6 394M453.4 394L458.4 394M283.6 369L278.6 369M453.4 369L458.4 369M283.6 344L278.6 344M453.4 344L458.4 344M283.6 319L278.6 319M453.4 319L458.4 319M283.6 481.5L280.6 481.5M453.4 481.5L456.4 481.5M283.6 456.5L280.6 456.5M453.4 456.5L456.4 456.5M283.6 431.5L280.6 431.5M453.4 431.5L456.4 431.5M283.6 406.5L280.6 406.5M453.4 406.5L456.4 406.5M283.6 381.5L280.6 381.5M453.4 381.5L456.4 381.5M283.6 356.5L280.6 356.5M453.4 356.5L456.4 356.5M283.6 331.5L280.6 331.5M453.4 331.5L456.4 331.5" stroke="#111" stroke-width="1.6" fill="none"/>
<text x="276.1" y="500.2" font-family="Liberation Serif" font-weight="bold" font-size="17.5" text-anchor="end">0</text>
<text x="276.1" y="475.2" font-family="Liberation Serif" font-weight="bold" font-size="17.5" text-anchor="end">50</text>
<text x="276.1" y="450.2" font-family="Liberation Serif" font-weight="bold" font-size="17.5" text-anchor="end">100</text>
<text x="276.1" y="425.2" font-family="Liberation Serif" font-weight="bold" font-size="17.5" text-anchor="end">150</text>
<text x="276.1" y="400.2" font-family="Liberation Serif" font-weight="bold" font-size="17.5" text-anchor="end">200</text>
<text x="276.1" y="375.2" font-family="Liberation Serif" font-weight="bold" font-size="17.5" text-anchor="end">250</text>
<text x="276.1" y="350.2" font-family="Liberation Serif" font-weight="bold" font-size="17.5" text-anchor="end">300</text>
<text x="276.1" y="325.2" font-family="Liberation Serif" font-weight="bold" font-size="17.5" text-anchor="end">350</text>
<path d="M287.5 497.2L287.5 502.2M287.5 314.8L287.5 309.8M314.52 497.2L314.52 502.2M314.52 314.8L314.52 309.8M341.54 497.2L341.54 502.2M341.54 314.8L341.54 309.8M368.56 497.2L368.56 502.2M368.56 314.8L368.56 309.8M395.58 497.2L395.58 502.2M395.58 314.8L395.58 309.8M422.6 497.2L422.6 502.2M422.6 314.8L422.6 309.8M449.62 497.2L449.62 502.2M449.62 314.8L449.62 309.8M301.01 497.2L301.01 500.2M301.01 314.8L301.01 311.8M328.03 497.2L328.03 500.2M328.03 314.8L328.03 311.8M355.05 497.2L355.05 500.2M355.05 314.8L355.05 311.8M382.07 497.2L382.07 500.2M382.07 314.8L382.07 311.8M409.09 497.2L409.09 500.2M409.09 314.8L409.09 311.8M436.11 497.2L436.11 500.2M436.11 314.8L436.11 311.8" stroke="#111" stroke-width="1.6" fill="none"/>
<text x="287.1" y="521.2" font-family="Liberation Serif" font-weight="bold" font-size="17.5" text-anchor="middle">0</text>
<text x="314.12" y="521.2" font-family="Liberation Serif" font-weight="bold" font-size="17.5" text-anchor="middle">20</text>
<text x="341.14" y="521.2" font-family="Liberation Serif" font-weight="bold" font-size="17.5" text-anchor="middle">40</text>
<text x="368.16" y="521.2" font-family="Liberation Serif" font-weight="bold" font-size="17.5" text-anchor="middle">60</text>
<text x="395.18" y="521.2" font-family="Liberation Serif" font-weight="bold" font-size="17.5" text-anchor="middle">80</text>
<text x="422.2" y="521.2" font-family="Liberation Serif" font-weight="bold" font-size="17.5" text-anchor="middle">100</text>
<text x="449.22" y="521.2" font-family="Liberation Serif" font-weight="bold" font-size="17.5" text-anchor="middle">120</text>
<text x="407.6" y="350" font-family="Liberation Serif" font-weight="bold" font-size="28.5" text-anchor="start">(e)</text>
<text x="369" y="543.3" font-family="Liberation Serif" font-weight="bold" font-size="21.5" text-anchor="middle">Ox (ppbv)</text>
<polyline points="506.7,326.5 508.4,384 509.2,434 509.9,459 510.4,474 512.4,491.5" fill="none" stroke="#3ced22" stroke-width="1.5" stroke-linejoin="round"/>
<path d="M506.7 322.3L510.9 326.5L506.7 330.7L502.5 326.5ZM508.4 379.8L512.6 384L508.4 388.2L504.2 384ZM509.2 429.8L513.4 434L509.2 438.2L505 434ZM509.9 454.8L514.1 459L509.9 463.2L505.7 459ZM510.4 469.8L514.6 474L510.4 478.2L506.2 474ZM512.4 487.3L516.6 491.5L512.4 495.7L508.2 491.5Z" fill="#fff" stroke="#3ced22" stroke-width="1.5"/>
<polygon points="510.2,326.5 515,384 532.8,434 558.5,459 589,474 624.6,491.5 654.4,491.5 600.5,474 570.5,459 546.6,434 523,384 514.3,326.5" fill="#e1555f" fill-opacity="0.5"/>
<polyline points="511.7,326.5 518.4,384 540.7,434 564.5,459 594.3,474 639.5,491.5" fill="none" stroke="#ff1c1c" stroke-width="1.5" stroke-linejoin="round"/>
<path d="M508.8 323.6h5.8v5.8h-5.8ZM515.5 381.1h5.8v5.8h-5.8ZM537.8 431.1h5.8v5.8h-5.8ZM561.6 456.1h5.8v5.8h-5.8ZM591.4 471.1h5.8v5.8h-5.8ZM636.6 488.6h5.8v5.8h-5.8Z" fill="#fff" stroke="#ff1c1c" stroke-width="1.5"/>
<polygon points="511.6,326.5 518.4,384 522.8,434 526.3,459 530.3,474 541,491.5 552.3,491.5 537.7,474 532.9,459 529,434 522.8,384 515.4,326.5" fill="#5f8df5" fill-opacity="0.5"/>
<polyline points="513.4,326.5 520.8,384 525.8,434 529.8,459 534,474 547.1,491.5" fill="none" stroke="#2222ff" stroke-width="1.5" stroke-linejoin="round"/>
<path d="M510.7 326.5a2.7 2.7 0 1 0 5.4 0a2.7 2.7 0 1 0 -5.4 0ZM518.1 384a2.7 2.7 0 1 0 5.4 0a2.7 2.7 0 1 0 -5.4 0ZM523.1 434a2.7 2.7 0 1 0 5.4 0a2.7 2.7 0 1 0 -5.4 0ZM527.1 459a2.7 2.7 0 1 0 5.4 0a2.7 2.7 0 1 0 -5.4 0ZM531.3 474a2.7 2.7 0 1 0 5.4 0a2.7 2.7 0 1 0 -5.4 0ZM544.4 491.5a2.7 2.7 0 1 0 5.4 0a2.7 2.7 0 1 0 -5.4 0Z" fill="#fff" stroke="#2222ff" stroke-width="1.5"/>
<rect x="497.9" y="314.8" width="169.6" height="182.4" fill="none" stroke="#111" stroke-width="2"/>
<path d="M497.9 494L492.9 494M667.5 494L672.5 494M497.9 469L492.9 469M667.5 469L672.5 469M497.9 444L492.9 444M667.5 444L672.5 444M497.9 419L492.9 419M667.5 419L672.5 419M497.9 394L492.9 394M667.5 394L672.5 394M497.9 369L492.9 369M667.5 369L672.5 369M497.9 344L492.9 344M667.5 344L672.5 344M497.9 319L492.9 319M667.5 319L672.5 319M497.9 481.5L494.9 481.5M667.5 481.5L670.5 481.5M497.9 456.5L494.9 456.5M667.5 456.5L670.5 456.5M497.9 431.5L494.9 431.5M667.5 431.5L670.5 431.5M497.9 406.5L494.9 406.5M667.5 406.5L670.5 406.5M497.9 381.5L494.9 381.5M667.5 381.5L670.5 381.5M497.9 356.5L494.9 356.5M667.5 356.5L670.5 356.5M497.9 331.5L494.9 331.5M667.5 331.5L670.5 331.5" stroke="#111" stroke-width="1.6" fill="none"/>
<text x="490.4" y="500.2" font-family="Liberation Serif" font-weight="bold" font-size="17.5" text-anchor="end">0</text>
<text x="490.4" y="475.2" font-family="Liberation Serif" font-weight="bold" font-size="17.5" text-anchor="end">50</text>
<text x="490.4" y="450.2" font-family="Liberation Serif" font-weight="bold" font-size="17.5" text-anchor="end">100</text>
<text x="490.4" y="425.2" font-family="Liberation Serif" font-weight="bold" font-size="17.5" text-anchor="end">150</text>
<text x="490.4" y="400.2" font-family="Liberation Serif" font-weight="bold" font-size="17.5" text-anchor="end">200</text>
<text x="490.4" y="375.2" font-family="Liberation Serif" font-weight="bold" font-size="17.5" text-anchor="end">250</text>
<text x="490.4" y="350.2" font-family="Liberation Serif" font-weight="bold" font-size="17.5" text-anchor="end">300</text>
<text x="490.4" y="325.2" font-family="Liberation Serif" font-weight="bold" font-size="17.5" text-anchor="end">350</text>
<path d="M501.6 497.2L501.6 502.2M501.6 314.8L501.6 309.8M534.02 497.2L534.02 502.2M534.02 314.8L534.02 309.8M566.44 497.2L566.44 502.2M566.44 314.8L566.44 309.8M598.85 497.2L598.85 502.2M598.85 314.8L598.85 309.8M631.27 497.2L631.27 502.2M631.27 314.8L631.27 309.8M663.69 497.2L663.69 502.2M663.69 314.8L663.69 309.8M517.81 497.2L517.81 500.2M517.81 314.8L517.81 311.8M550.23 497.2L550.23 500.2M550.23 314.8L550.23 311.8M582.64 497.2L582.64 500.2M582.64 314.8L582.64 311.8M615.06 497.2L615.06 500.2M615.06 314.8L615.06 311.8M647.48 497.2L647.48 500.2M647.48 314.8L647.48 311.8" stroke="#111" stroke-width="1.6" fill="none"/>
<text x="501.2" y="521.2" font-family="Liberation Serif" font-weight="bold" font-size="17.5" text-anchor="middle">0</text>
<text x="533.62" y="521.2" font-family="Liberation Serif" font-weight="bold" font-size="17.5" text-anchor="middle">60</text>
<text x="566.04" y="521.2" font-family="Liberation Serif" font-weight="bold" font-size="17.5" text-anchor="middle">120</text>
<text x="598.45" y="521.2" font-family="Liberation Serif" font-weight="bold" font-size="17.5" text-anchor="middle">180</text>
<text x="630.87" y="521.2" font-family="Liberation Serif" font-weight="bold" font-size="17.5" text-anchor="middle">240</text>
<text x="663.29" y="521.2" font-family="Liberation Serif" font-weight="bold" font-size="17.5" text-anchor="middle">300</text>
<text x="622.8" y="350" font-family="Liberation Serif" font-weight="bold" font-size="28.5" text-anchor="start">(f)</text>
<text x="583" y="543.3" font-family="Liberation Serif" font-weight="bold" font-size="21.5" text-anchor="middle">NOx (ppbv)</text>
<polyline points="88.6,574 91.1,631.5 91.8,681.5 91.8,706.5 92.3,721.5 92.3,739" fill="none" stroke="#3ced22" stroke-width="1.5" stroke-linejoin="round"/>
<path d="M88.6 569.8L92.8 574L88.6 578.2L84.4 574ZM91.1 627.3L95.3 631.5L91.1 635.7L86.9 631.5ZM91.8 677.3L96 681.5L91.8 685.7L87.6 681.5ZM91.8 702.3L96 706.5L91.8 710.7L87.6 706.5ZM92.3 717.3L96.5 721.5L92.3 725.7L88.1 721.5ZM92.3 734.8L96.5 739L92.3 743.2L88.1 739Z" fill="#fff" stroke="#3ced22" stroke-width="1.5"/>
<polygon points="92.3,574 89.9,631.5 111,681.5 162,706.5 191.6,721.5 169,739 182,739 226.4,721.5 195,706.5 142,681.5 97.3,631.5 109.7,574" fill="#e1555f" fill-opacity="0.5"/>
<polyline points="101.8,574 93.6,631.5 128.3,681.5 179.2,706.5 209.5,721.5 175.5,739" fill="none" stroke="#ff1c1c" stroke-width="1.5" stroke-linejoin="round"/>
<path d="M98.9 571.1h5.8v5.8h-5.8ZM90.7 628.6h5.8v5.8h-5.8ZM125.4 678.6h5.8v5.8h-5.8ZM176.3 703.6h5.8v5.8h-5.8ZM206.6 718.6h5.8v5.8h-5.8ZM172.6 736.1h5.8v5.8h-5.8Z" fill="#fff" stroke="#ff1c1c" stroke-width="1.5"/>
<polygon points="100.8,574 134.5,631.5 149.4,681.5 150.7,706.5 151.9,721.5 145.7,739 169.5,739 186,721.5 190.4,706.5 188.6,681.5 159.4,631.5 124.6,574" fill="#5f8df5" fill-opacity="0.5"/>
<polyline points="112.7,574 146.9,631.5 168.8,681.5 170.5,706.5 169.3,721.5 158.9,739" fill="none" stroke="#2222ff" stroke-width="1.5" stroke-linejoin="round"/>
<path d="M110 574a2.7 2.7 0 1 0 5.4 0a2.7 2.7 0 1 0 -5.4 0ZM144.2 631.5a2.7 2.7 0 1 0 5.4 0a2.7 2.7 0 1 0 -5.4 0ZM166.1 681.5a2.7 2.7 0 1 0 5.4 0a2.7 2.7 0 1 0 -5.4 0ZM167.8 706.5a2.7 2.7 0 1 0 5.4 0a2.7 2.7 0 1 0 -5.4 0ZM166.6 721.5a2.7 2.7 0 1 0 5.4 0a2.7 2.7 0 1 0 -5.4 0ZM156.2 739a2.7 2.7 0 1 0 5.4 0a2.7 2.7 0 1 0 -5.4 0Z" fill="#fff" stroke="#2222ff" stroke-width="1.5"/>
<rect x="70.1" y="562.6" width="169.4" height="182.2" fill="none" stroke="#111" stroke-width="2"/>
<path d="M70.1 741.5L65.1 741.5M239.5 741.5L244.5 741.5M70.1 716.5L65.1 716.5M239.5 716.5L244.5 716.5M70.1 691.5L65.1 691.5M239.5 691.5L244.5 691.5M70.1 666.5L65.1 666.5M239.5 666.5L244.5 666.5M70.1 641.5L65.1 641.5M239.5 641.5L244.5 641.5M70.1 616.5L65.1 616.5M239.5 616.5L244.5 616.5M70.1 591.5L65.1 591.5M239.5 591.5L244.5 591.5M70.1 566.5L65.1 566.5M239.5 566.5L244.5 566.5M70.1 729L67.1 729M239.5 729L242.5 729M70.1 704L67.1 704M239.5 704L242.5 704M70.1 679L67.1 679M239.5 679L242.5 679M70.1 654L67.1 654M239.5 654L242.5 654M70.1 629L67.1 629M239.5 629L242.5 629M70.1 604L67.1 604M239.5 604L242.5 604M70.1 579L67.1 579M239.5 579L242.5 579" stroke="#111" stroke-width="1.6" fill="none"/>
<text x="62.6" y="747.7" font-family="Liberation Serif" font-weight="bold" font-size="17.5" text-anchor="end">0</text>
<text x="62.6" y="722.7" font-family="Liberation Serif" font-weight="bold" font-size="17.5" text-anchor="end">50</text>
<text x="62.6" y="697.7" font-family="Liberation Serif" font-weight="bold" font-size="17.5" text-anchor="end">100</text>
<text x="62.6" y="672.7" font-family="Liberation Serif" font-weight="bold" font-size="17.5" text-anchor="end">150</text>
<text x="62.6" y="647.7" font-family="Liberation Serif" font-weight="bold" font-size="17.5" text-anchor="end">200</text>
<text x="62.6" y="622.7" font-family="Liberation Serif" font-weight="bold" font-size="17.5" text-anchor="end">250</text>
<text x="62.6" y="597.7" font-family="Liberation Serif" font-weight="bold" font-size="17.5" text-anchor="end">300</text>
<text x="62.6" y="572.7" font-family="Liberation Serif" font-weight="bold" font-size="17.5" text-anchor="end">350</text>
<path d="M73.3 744.8L73.3 749.8M73.3 562.6L73.3 557.6M109.3 744.8L109.3 749.8M109.3 562.6L109.3 557.6M145.3 744.8L145.3 749.8M145.3 562.6L145.3 557.6M181.3 744.8L181.3 749.8M181.3 562.6L181.3 557.6M217.3 744.8L217.3 749.8M217.3 562.6L217.3 557.6M91.3 744.8L91.3 747.8M91.3 562.6L91.3 559.6M127.3 744.8L127.3 747.8M127.3 562.6L127.3 559.6M163.3 744.8L163.3 747.8M163.3 562.6L163.3 559.6M199.3 744.8L199.3 747.8M199.3 562.6L199.3 559.6M235.3 744.8L235.3 747.8M235.3 562.6L235.3 559.6" stroke="#111" stroke-width="1.6" fill="none"/>
<text x="72.9" y="768.8" font-family="Liberation Serif" font-weight="bold" font-size="17.5" text-anchor="middle">0</text>
<text x="108.9" y="768.8" font-family="Liberation Serif" font-weight="bold" font-size="17.5" text-anchor="middle">4</text>
<text x="144.9" y="768.8" font-family="Liberation Serif" font-weight="bold" font-size="17.5" text-anchor="middle">8</text>
<text x="180.9" y="768.8" font-family="Liberation Serif" font-weight="bold" font-size="17.5" text-anchor="middle">12</text>
<text x="216.9" y="768.8" font-family="Liberation Serif" font-weight="bold" font-size="17.5" text-anchor="middle">16</text>
<text x="193" y="601" font-family="Liberation Serif" font-weight="bold" font-size="28.5" text-anchor="start">(g)</text>
<text x="155" y="793.3" font-family="Liberation Serif" font-weight="bold" font-size="21.5" text-anchor="middle">Toluene (ppbv)</text>
<polyline points="292.7,574 292.7,631.5 293.4,681.5 293.4,706.5 293.9,721.5 294.7,739" fill="none" stroke="#3ced22" stroke-width="1.5" stroke-linejoin="round"/>
<path d="M292.7 569.8L296.9 574L292.7 578.2L288.5 574ZM292.7 627.3L296.9 631.5L292.7 635.7L288.5 631.5ZM293.4 677.3L297.6 681.5L293.4 685.7L289.2 681.5ZM293.4 702.3L297.6 706.5L293.4 710.7L289.2 706.5ZM293.9 717.3L298.1 721.5L293.9 725.7L289.7 721.5ZM294.7 734.8L298.9 739L294.7 743.2L290.5 739Z" fill="#fff" stroke="#3ced22" stroke-width="1.5"/>
<polygon points="292,574 292.7,631.5 313.8,681.5 361,706.5 410,721.5 428,739 451,739 448,721.5 398,706.5 348,681.5 296.2,631.5 294.2,574" fill="#e1555f" fill-opacity="0.5"/>
<polyline points="293.2,574 294.4,631.5 327.4,681.5 378.3,706.5 427.2,721.5 444.8,739" fill="none" stroke="#ff1c1c" stroke-width="1.5" stroke-linejoin="round"/>
<path d="M290.3 571.1h5.8v5.8h-5.8ZM291.5 628.6h5.8v5.8h-5.8ZM324.5 678.6h5.8v5.8h-5.8ZM375.4 703.6h5.8v5.8h-5.8ZM424.3 718.6h5.8v5.8h-5.8ZM441.9 736.1h5.8v5.8h-5.8Z" fill="#fff" stroke="#ff1c1c" stroke-width="1.5"/>
<polygon points="297.2,574 313.8,631.5 323,681.5 334.5,706.5 337.4,721.5 385.8,739 419.3,739 363.6,721.5 360,706.5 349,681.5 328.7,631.5 300.6,574" fill="#5f8df5" fill-opacity="0.5"/>
<polyline points="298.4,574 320.7,631.5 339.1,681.5 347.3,706.5 351,721.5 403.9,739" fill="none" stroke="#2222ff" stroke-width="1.5" stroke-linejoin="round"/>
<path d="M295.7 574a2.7 2.7 0 1 0 5.4 0a2.7 2.7 0 1 0 -5.4 0ZM318 631.5a2.7 2.7 0 1 0 5.4 0a2.7 2.7 0 1 0 -5.4 0ZM336.4 681.5a2.7 2.7 0 1 0 5.4 0a2.7 2.7 0 1 0 -5.4 0ZM344.6 706.5a2.7 2.7 0 1 0 5.4 0a2.7 2.7 0 1 0 -5.4 0ZM348.3 721.5a2.7 2.7 0 1 0 5.4 0a2.7 2.7 0 1 0 -5.4 0ZM401.2 739a2.7 2.7 0 1 0 5.4 0a2.7 2.7 0 1 0 -5.4 0Z" fill="#fff" stroke="#2222ff" stroke-width="1.5"/>
<rect x="285.6" y="562.6" width="168.6" height="182.4" fill="none" stroke="#111" stroke-width="2"/>
<path d="M285.6 741.5L280.6 741.5M454.2 741.5L459.2 741.5M285.6 716.5L280.6 716.5M454.2 716.5L459.2 716.5M285.6 691.5L280.6 691.5M454.2 691.5L459.2 691.5M285.6 666.5L280.6 666.5M454.2 666.5L459.2 666.5M285.6 641.5L280.6 641.5M454.2 641.5L459.2 641.5M285.6 616.5L280.6 616.5M454.2 616.5L459.2 616.5M285.6 591.5L280.6 591.5M454.2 591.5L459.2 591.5M285.6 566.5L280.6 566.5M454.2 566.5L459.2 566.5M285.6 729L282.6 729M454.2 729L457.2 729M285.6 704L282.6 704M454.2 704L457.2 704M285.6 679L282.6 679M454.2 679L457.2 679M285.6 654L282.6 654M454.2 654L457.2 654M285.6 629L282.6 629M454.2 629L457.2 629M285.6 604L282.6 604M454.2 604L457.2 604M285.6 579L282.6 579M454.2 579L457.2 579" stroke="#111" stroke-width="1.6" fill="none"/>
<text x="278.1" y="747.7" font-family="Liberation Serif" font-weight="bold" font-size="17.5" text-anchor="end">0</text>
<text x="278.1" y="722.7" font-family="Liberation Serif" font-weight="bold" font-size="17.5" text-anchor="end">50</text>
<text x="278.1" y="697.7" font-family="Liberation Serif" font-weight="bold" font-size="17.5" text-anchor="end">100</text>
<text x="278.1" y="672.7" font-family="Liberation Serif" font-weight="bold" font-size="17.5" text-anchor="end">150</text>
<text x="278.1" y="647.7" font-family="Liberation Serif" font-weight="bold" font-size="17.5" text-anchor="end">200</text>
<text x="278.1" y="622.7" font-family="Liberation Serif" font-weight="bold" font-size="17.5" text-anchor="end">250</text>
<text x="278.1" y="597.7" font-family="Liberation Serif" font-weight="bold" font-size="17.5" text-anchor="end">300</text>
<text x="278.1" y="572.7" font-family="Liberation Serif" font-weight="bold" font-size="17.5" text-anchor="end">350</text>
<path d="M288.9 745L288.9 750M288.9 562.6L288.9 557.6M321.34 745L321.34 750M321.34 562.6L321.34 557.6M353.78 745L353.78 750M353.78 562.6L353.78 557.6M386.22 745L386.22 750M386.22 562.6L386.22 557.6M418.66 745L418.66 750M418.66 562.6L418.66 557.6M451.1 745L451.1 750M451.1 562.6L451.1 557.6M305.12 745L305.12 748M305.12 562.6L305.12 559.6M337.56 745L337.56 748M337.56 562.6L337.56 559.6M370 745L370 748M370 562.6L370 559.6M402.44 745L402.44 748M402.44 562.6L402.44 559.6M434.88 745L434.88 748M434.88 562.6L434.88 559.6" stroke="#111" stroke-width="1.6" fill="none"/>
<text x="288.5" y="769" font-family="Liberation Serif" font-weight="bold" font-size="17.5" text-anchor="middle">0.0</text>
<text x="320.94" y="769" font-family="Liberation Serif" font-weight="bold" font-size="17.5" text-anchor="middle">0.2</text>
<text x="353.38" y="769" font-family="Liberation Serif" font-weight="bold" font-size="17.5" text-anchor="middle">0.4</text>
<text x="385.82" y="769" font-family="Liberation Serif" font-weight="bold" font-size="17.5" text-anchor="middle">0.6</text>
<text x="418.26" y="769" font-family="Liberation Serif" font-weight="bold" font-size="17.5" text-anchor="middle">0.8</text>
<text x="450.7" y="769" font-family="Liberation Serif" font-weight="bold" font-size="17.5" text-anchor="middle">1.0</text>
<text x="407.8" y="601.3" font-family="Liberation Serif" font-weight="bold" font-size="28.5" text-anchor="start">(h)</text>
<text x="364" y="793.3" font-family="Liberation Serif" font-weight="bold" font-size="21.5" text-anchor="middle">Monoterpenes (ppbv)</text>
<polyline points="526.5,574 526.5,631.5 525.8,681.5 526.3,706.5 526.8,721.5 525.3,739" fill="none" stroke="#3ced22" stroke-width="1.5" stroke-linejoin="round"/>
<path d="M526.5 569.8L530.7 574L526.5 578.2L522.3 574ZM526.5 627.3L530.7 631.5L526.5 635.7L522.3 631.5ZM525.8 677.3L530 681.5L525.8 685.7L521.6 681.5ZM526.3 702.3L530.5 706.5L526.3 710.7L522.1 706.5ZM526.8 717.3L531 721.5L526.8 725.7L522.6 721.5ZM525.3 734.8L529.5 739L525.3 743.2L521.1 739Z" fill="#fff" stroke="#3ced22" stroke-width="1.5"/>
<polygon points="562,574 549.6,631.5 557.6,681.5 583,706.5 595,721.5 576,739 596,739 623.3,721.5 612,706.5 579.9,681.5 567.5,631.5 597.3,574" fill="#e1555f" fill-opacity="0.5"/>
<polyline points="579.4,574 558.1,631.5 570,681.5 599.8,706.5 614.2,721.5 586.1,739" fill="none" stroke="#ff1c1c" stroke-width="1.5" stroke-linejoin="round"/>
<path d="M576.5 571.1h5.8v5.8h-5.8ZM555.2 628.6h5.8v5.8h-5.8ZM567.1 678.6h5.8v5.8h-5.8ZM596.9 703.6h5.8v5.8h-5.8ZM611.3 718.6h5.8v5.8h-5.8ZM583.2 736.1h5.8v5.8h-5.8Z" fill="#fff" stroke="#ff1c1c" stroke-width="1.5"/>
<polygon points="566.3,574 582.4,631.5 582.9,681.5 583.6,706.5 589.8,721.5 563.8,739 579.5,739 606,721.5 606,706.5 605.2,681.5 604.7,631.5 598.5,574" fill="#5f8df5" fill-opacity="0.5"/>
<polyline points="581.9,574 593.6,631.5 593.1,681.5 595.3,706.5 599.8,721.5 571.7,739" fill="none" stroke="#2222ff" stroke-width="1.5" stroke-linejoin="round"/>
<path d="M579.2 574a2.7 2.7 0 1 0 5.4 0a2.7 2.7 0 1 0 -5.4 0ZM590.9 631.5a2.7 2.7 0 1 0 5.4 0a2.7 2.7 0 1 0 -5.4 0ZM590.4 681.5a2.7 2.7 0 1 0 5.4 0a2.7 2.7 0 1 0 -5.4 0ZM592.6 706.5a2.7 2.7 0 1 0 5.4 0a2.7 2.7 0 1 0 -5.4 0ZM597.1 721.5a2.7 2.7 0 1 0 5.4 0a2.7 2.7 0 1 0 -5.4 0ZM569 739a2.7 2.7 0 1 0 5.4 0a2.7 2.7 0 1 0 -5.4 0Z" fill="#fff" stroke="#2222ff" stroke-width="1.5"/>
<rect x="497.9" y="562.5" width="169.7" height="182.5" fill="none" stroke="#111" stroke-width="2"/>
<path d="M497.9 741.5L492.9 741.5M667.6 741.5L672.6 741.5M497.9 716.5L492.9 716.5M667.6 716.5L672.6 716.5M497.9 691.5L492.9 691.5M667.6 691.5L672.6 691.5M497.9 666.5L492.9 666.5M667.6 666.5L672.6 666.5M497.9 641.5L492.9 641.5M667.6 641.5L672.6 641.5M497.9 616.5L492.9 616.5M667.6 616.5L672.6 616.5M497.9 591.5L492.9 591.5M667.6 591.5L672.6 591.5M497.9 566.5L492.9 566.5M667.6 566.5L672.6 566.5M497.9 729L494.9 729M667.6 729L670.6 729M497.9 704L494.9 704M667.6 704L670.6 704M497.9 679L494.9 679M667.6 679L670.6 679M497.9 654L494.9 654M667.6 654L670.6 654M497.9 629L494.9 629M667.6 629L670.6 629M497.9 604L494.9 604M667.6 604L670.6 604M497.9 579L494.9 579M667.6 579L670.6 579" stroke="#111" stroke-width="1.6" fill="none"/>
<text x="490.4" y="747.7" font-family="Liberation Serif" font-weight="bold" font-size="17.5" text-anchor="end">0</text>
<text x="490.4" y="722.7" font-family="Liberation Serif" font-weight="bold" font-size="17.5" text-anchor="end">50</text>
<text x="490.4" y="697.7" font-family="Liberation Serif" font-weight="bold" font-size="17.5" text-anchor="end">100</text>
<text x="490.4" y="672.7" font-family="Liberation Serif" font-weight="bold" font-size="17.5" text-anchor="end">150</text>
<text x="490.4" y="647.7" font-family="Liberation Serif" font-weight="bold" font-size="17.5" text-anchor="end">200</text>
<text x="490.4" y="622.7" font-family="Liberation Serif" font-weight="bold" font-size="17.5" text-anchor="end">250</text>
<text x="490.4" y="597.7" font-family="Liberation Serif" font-weight="bold" font-size="17.5" text-anchor="end">300</text>
<text x="490.4" y="572.7" font-family="Liberation Serif" font-weight="bold" font-size="17.5" text-anchor="end">350</text>
<path d="M502.1 745L502.1 750M502.1 562.5L502.1 557.5M555.9 745L555.9 750M555.9 562.5L555.9 557.5M609.7 745L609.7 750M609.7 562.5L609.7 557.5M663.5 745L663.5 750M663.5 562.5L663.5 557.5M529 745L529 748M529 562.5L529 559.5M582.8 745L582.8 748M582.8 562.5L582.8 559.5M636.6 745L636.6 748M636.6 562.5L636.6 559.5" stroke="#111" stroke-width="1.6" fill="none"/>
<text x="501.7" y="769" font-family="Liberation Serif" font-weight="bold" font-size="17.5" text-anchor="middle">0.0</text>
<text x="555.5" y="769" font-family="Liberation Serif" font-weight="bold" font-size="17.5" text-anchor="middle">0.2</text>
<text x="609.3" y="769" font-family="Liberation Serif" font-weight="bold" font-size="17.5" text-anchor="middle">0.4</text>
<text x="663.1" y="769" font-family="Liberation Serif" font-weight="bold" font-size="17.5" text-anchor="middle">0.6</text>
<text x="622.8" y="601.3" font-family="Liberation Serif" font-weight="bold" font-size="28.5" text-anchor="start">(i)</text>
<text x="586.5" y="793.3" font-family="Liberation Serif" font-weight="bold" font-size="21.5" text-anchor="middle">MVK+MACR (ppbv)</text>
<text transform="translate(16.9,405) rotate(-90) scale(1.11,1)" font-family="Liberation Serif" font-weight="bold" font-size="21.5" text-anchor="middle">Height (m)</text>
<rect x="215" y="0.9" width="277.5" height="31.2" fill="#fff" stroke="#262626" stroke-width="2"/>
<path d="M222 17.5H262" stroke="#3ced22" stroke-width="1.6"/>
<path d="M242.3 7.9L251.9 17.5L242.3 27.1L232.7 17.5Z" fill="#fff" stroke="#3ced22" stroke-width="1.6"/>
<path d="M324.2 17.5H364.8" stroke="#ff1c1c" stroke-width="1.6"/>
<path d="M337.5 10.5h14v14h-14Z" fill="#fff" stroke="#ff1c1c" stroke-width="1.6"/>
<path d="M409.6 17.5H449.8" stroke="#2222ff" stroke-width="1.6"/>
<path d="M423.4 17.5a6.3 6.3 0 1 0 12.6 0a6.3 6.3 0 1 0 -12.6 0Z" fill="#fff" stroke="#2222ff" stroke-width="1.6"/>
<text transform="translate(271.8,24.6) scale(0.88,1)" font-family="Liberation Serif" font-weight="bold" font-size="24">P1</text>
<text transform="translate(374.3,24.6) scale(0.88,1)" font-family="Liberation Serif" font-weight="bold" font-size="24">P2</text>
<text transform="translate(459.3,24.6) scale(0.88,1)" font-family="Liberation Serif" font-weight="bold" font-size="24">P3</text>
</svg></body></html>
